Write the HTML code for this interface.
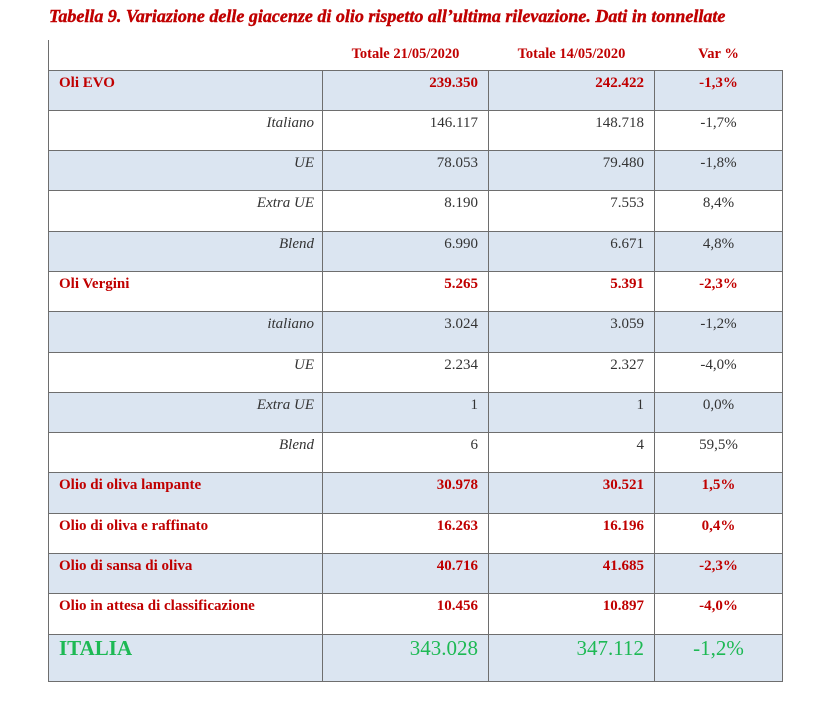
<!DOCTYPE html>
<html><head><style>
body{margin:0;width:840px;height:713px;background:#fff;position:relative;font-family:"Liberation Serif",serif;overflow:hidden}
.t{position:absolute;left:49px;top:6px;color:#c00000;font-weight:700;font-style:italic;font-size:18px;white-space:nowrap;-webkit-text-stroke:0.4px #c00000}
table{position:absolute;left:48px;top:40px;border-collapse:collapse;table-layout:fixed}
td{border:1.3px solid #6e6e6e;padding:0;height:40.3px;vertical-align:top;font-size:15px;line-height:20px;padding-top:2px;box-sizing:border-box}
tr.h td{height:30px;border-top:none;border-left:none;border-right:none;color:#c00000;font-weight:bold;text-align:center;padding-top:4px;font-size:14.5px}
tr.h td:first-child{border-left:1.3px solid #6e6e6e}
tr.h td:last-child{border-right:none}
.b{background:#dbe5f1}
.r{color:#c00000;font-weight:bold}
.l{padding-left:10px}
.i{font-style:italic;text-align:right;padding-right:8px;color:#333}
.n{text-align:right;padding-right:10px;color:#333}
.v{text-align:center;color:#333}
.r.n,.r.v{color:#c00000}
.g td{color:#1db954;font-size:21px;height:47px;padding-top:3px;font-weight:normal}
</style></head><body>
<div class="t">Tabella 9. Variazione delle giacenze di olio rispetto all’ultima rilevazione. Dati in tonnellate</div>
<table>
<colgroup><col style="width:274px"><col style="width:166px"><col style="width:166px"><col style="width:128px"></colgroup>
<tr class="h"><td></td><td>Totale 21/05/2020</td><td>Totale 14/05/2020</td><td>Var %</td></tr>
<tr class="b"><td class="r l">Oli EVO</td><td class="r n">239.350</td><td class="r n">242.422</td><td class="r v">-1,3%</td></tr>
<tr><td class="i">Italiano</td><td class="n">146.117</td><td class="n">148.718</td><td class="v">-1,7%</td></tr>
<tr class="b"><td class="i">UE</td><td class="n">78.053</td><td class="n">79.480</td><td class="v">-1,8%</td></tr>
<tr><td class="i">Extra UE</td><td class="n">8.190</td><td class="n">7.553</td><td class="v">8,4%</td></tr>
<tr class="b"><td class="i">Blend</td><td class="n">6.990</td><td class="n">6.671</td><td class="v">4,8%</td></tr>
<tr><td class="r l">Oli Vergini</td><td class="r n">5.265</td><td class="r n">5.391</td><td class="r v">-2,3%</td></tr>
<tr class="b"><td class="i">italiano</td><td class="n">3.024</td><td class="n">3.059</td><td class="v">-1,2%</td></tr>
<tr><td class="i">UE</td><td class="n">2.234</td><td class="n">2.327</td><td class="v">-4,0%</td></tr>
<tr class="b"><td class="i">Extra UE</td><td class="n">1</td><td class="n">1</td><td class="v">0,0%</td></tr>
<tr><td class="i">Blend</td><td class="n">6</td><td class="n">4</td><td class="v">59,5%</td></tr>
<tr class="b"><td class="r l">Olio di oliva lampante</td><td class="r n">30.978</td><td class="r n">30.521</td><td class="r v">1,5%</td></tr>
<tr><td class="r l">Olio di oliva e raffinato</td><td class="r n">16.263</td><td class="r n">16.196</td><td class="r v">0,4%</td></tr>
<tr class="b"><td class="r l">Olio di sansa di oliva</td><td class="r n">40.716</td><td class="r n">41.685</td><td class="r v">-2,3%</td></tr>
<tr><td class="r l">Olio in attesa di classificazione</td><td class="r n">10.456</td><td class="r n">10.897</td><td class="r v">-4,0%</td></tr>
<tr class="b g"><td class="l" style="font-weight:bold">ITALIA</td><td class="n" style="color:#1db954">343.028</td><td class="n" style="color:#1db954">347.112</td><td class="v" style="color:#1db954">-1,2%</td></tr>
</table>
</body></html>
